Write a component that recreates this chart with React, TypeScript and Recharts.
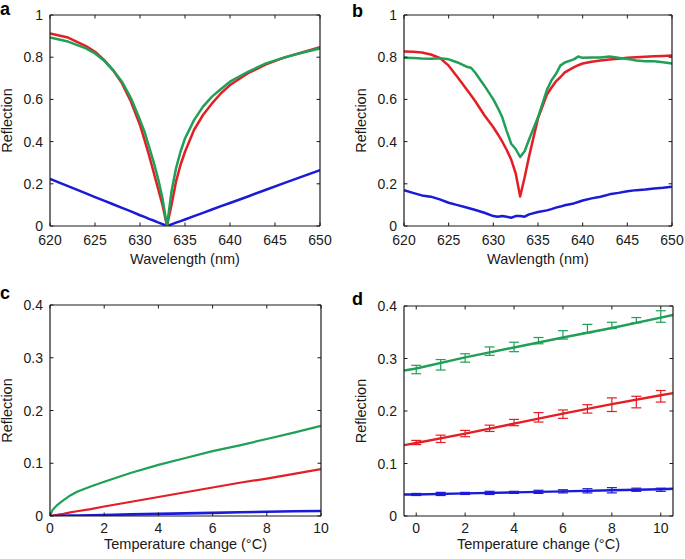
import React from 'react';
import { ComposedChart, Line, XAxis, YAxis, Scatter, ErrorBar } from 'recharts';

const RED = '#e31e24';
const GREEN = '#1f9f57';
const BLUE = '#1a1ad8';
const INK = '#1a1a1a';
const FONT = '"Liberation Sans", Arial, Helvetica, sans-serif';

// ---------- Panel a ----------
const aWavelength = [620, 622, 624, 625, 626, 627, 628, 629, 630, 630.5, 631, 631.5, 632, 632.5, 633, 633.5, 634, 634.5, 635, 636, 637, 638, 639, 640, 642, 644, 646, 648, 650];
const aRed = [0.913, 0.893, 0.853, 0.826, 0.787, 0.739, 0.676, 0.589, 0.479, 0.408, 0.336, 0.257, 0.178, 0.1, 0, 0.1, 0.21, 0.289, 0.352, 0.455, 0.526, 0.581, 0.629, 0.668, 0.724, 0.766, 0.798, 0.823, 0.847];
const aGreen = [0.893, 0.874, 0.842, 0.818, 0.784, 0.739, 0.684, 0.605, 0.502, 0.447, 0.376, 0.305, 0.226, 0.131, 0, 0.163, 0.273, 0.352, 0.415, 0.502, 0.566, 0.613, 0.649, 0.684, 0.731, 0.771, 0.798, 0.821, 0.842];
const aBlue = [0.223, 0.189, 0.155, 0.137, 0.12, 0.103, 0.086, 0.069, 0.051, 0.043, 0.034, 0.026, 0.017, 0.009, 0, 0.008, 0.016, 0.023, 0.031, 0.047, 0.062, 0.078, 0.094, 0.109, 0.14, 0.172, 0.203, 0.234, 0.265];

// ---------- Panel b ----------
const bWavelength = [620, 621, 622, 623, 624, 625, 626, 627, 627.5, 628, 629, 630, 630.5, 631, 631.5, 632, 632.5, 633, 633.5, 634, 635, 636, 636.5, 637, 637.5, 638, 639, 639.5, 640, 641, 642, 643, 644, 645, 646, 647, 648, 649, 650];
const bRed = [0.827, 0.826, 0.822, 0.813, 0.797, 0.76, 0.705, 0.648, 0.62, 0.59, 0.525, 0.468, 0.435, 0.4, 0.36, 0.315, 0.25, 0.14, 0.23, 0.33, 0.51, 0.623, 0.655, 0.685, 0.705, 0.728, 0.752, 0.762, 0.77, 0.778, 0.784, 0.789, 0.793, 0.797, 0.8, 0.802, 0.804, 0.806, 0.808];
const bGreen = [0.797, 0.796, 0.794, 0.793, 0.795, 0.79, 0.775, 0.755, 0.75, 0.725, 0.665, 0.6, 0.56, 0.515, 0.45, 0.39, 0.365, 0.327, 0.354, 0.41, 0.515, 0.645, 0.69, 0.72, 0.76, 0.775, 0.79, 0.803, 0.797, 0.798, 0.799, 0.803, 0.797, 0.792, 0.784, 0.781, 0.781, 0.776, 0.77];
const bBlue = [0.17, 0.157, 0.145, 0.139, 0.126, 0.11, 0.099, 0.088, 0.082, 0.076, 0.063, 0.047, 0.044, 0.047, 0.044, 0.039, 0.047, 0.047, 0.044, 0.055, 0.066, 0.074, 0.08, 0.087, 0.092, 0.098, 0.107, 0.114, 0.121, 0.131, 0.139, 0.15, 0.157, 0.165, 0.17, 0.173, 0.178, 0.181, 0.186];

// ---------- Panel c ----------
const cTemp = [0, 0.1, 0.25, 0.5, 0.75, 1, 1.5, 2, 3, 4, 5, 6, 7, 8, 9, 10];
const cGreen = [0, 0.012, 0.02, 0.03, 0.039, 0.046, 0.056, 0.065, 0.082, 0.097, 0.11, 0.123, 0.134, 0.146, 0.158, 0.171];
const cRed = [0, 0.001, 0.002, 0.004, 0.007, 0.009, 0.013, 0.018, 0.027, 0.036, 0.045, 0.054, 0.063, 0.071, 0.08, 0.089];
const cBlue = [0, 0, 0, 0.0005, 0.001, 0.001, 0.0015, 0.002, 0.003, 0.004, 0.005, 0.006, 0.007, 0.008, 0.009, 0.0095];

// ---------- Panel d ----------
const dFitTemp = [-0.5, 0, 2, 4, 6, 8, 10, 10.5];
const dGreenFit = [0.277, 0.281, 0.302, 0.321, 0.34, 0.358, 0.378, 0.383];
const dRedFit = [0.135, 0.139, 0.157, 0.176, 0.195, 0.213, 0.23, 0.234];
const dBlueFit = [0.041, 0.041, 0.043, 0.045, 0.047, 0.049, 0.051, 0.052];
const dTemp = [0, 1, 2, 3, 4, 5, 6, 7, 8, 9, 10];
const dGreenMean = [0.279, 0.288, 0.301, 0.314, 0.322, 0.334, 0.345, 0.357, 0.363, 0.373, 0.38];
const dGreenErr = [0.008, 0.01, 0.008, 0.008, 0.009, 0.006, 0.008, 0.008, 0.006, 0.005, 0.011];
const dRedMean = [0.14, 0.147, 0.157, 0.167, 0.178, 0.188, 0.194, 0.204, 0.212, 0.217, 0.228];
const dRedErr = [0.004, 0.007, 0.006, 0.006, 0.006, 0.009, 0.008, 0.008, 0.013, 0.011, 0.011];
const dBlueMean = [0.041, 0.042, 0.043, 0.044, 0.045, 0.046, 0.047, 0.048, 0.049, 0.05, 0.05];
const dBlueErr = [0.002, 0.003, 0.002, 0.003, 0.002, 0.003, 0.003, 0.004, 0.005, 0.003, 0.003];

// ---------- Ticks ----------
const wlTicks = [620, 625, 630, 635, 640, 645, 650];
const reflTicksAB = [0, 0.2, 0.4, 0.6, 0.8, 1];
const tempTicks = [0, 2, 4, 6, 8, 10];
const reflTicksCD = [0, 0.1, 0.2, 0.3, 0.4];

const pts = (xs: number[], ys: number[]) => xs.map((x, i) => ({ x, y: ys[i] }));
const errPts = (xs: number[], ys: number[], es: number[]) => xs.map((x, i) => ({ x, y: ys[i], e: es[i] }));

const TL = 3.5;

const bottomTick = (base: number) => (p: any) => (
  <g>
    <line x1={p.x} x2={p.x} y1={p.y} y2={p.y - TL} stroke={INK} strokeWidth={1} />
    <text x={p.x} y={p.y + base} textAnchor="middle" fontSize={14} fill={INK}>{String(p.payload.value)}</text>
  </g>
);
const topTick = (p: any) => (
  <line x1={p.x} x2={p.x} y1={p.y} y2={p.y + TL} stroke={INK} strokeWidth={1} />
);
const leftTick = (p: any) => (
  <g>
    <line x1={p.x} x2={p.x + TL} y1={p.y} y2={p.y} stroke={INK} strokeWidth={1} />
    <text x={p.x - 7} y={p.y + 5} textAnchor="end" fontSize={14} fill={INK}>{String(p.payload.value)}</text>
  </g>
);
const rightTick = (p: any) => (
  <line x1={p.x} x2={p.x - TL} y1={p.y} y2={p.y} stroke={INK} strokeWidth={1} />
);

const axisLine = { stroke: INK, strokeWidth: 1.2 };

type PanelProps = {
  left: number; top: number; width: number; height: number;
  margin: { top: number; right: number; bottom: number; left: number };
  xDomain: [number, number]; xTicks: number[];
  yDomain: [number, number]; yTicks: number[];
  xLabel: string; xLabelOffset: number; xTickBase: number; yLabelDx: number;
  children: React.ReactNode;
};

// Axis boxes are 1px thick (Recharts skips 0-sized axes); margins compensate.
function Panel(props: PanelProps) {
  const { left, top, width, height, margin, xDomain, xTicks, yDomain, yTicks, xLabel, xLabelOffset, xTickBase, yLabelDx, children } = props;
  const m = { top: margin.top - 1, right: margin.right - 1, bottom: margin.bottom - 1, left: margin.left - 1 };
  return (
    <div style={{ position: 'absolute', left, top, width, height }}>
      <ComposedChart width={width} height={height} margin={m}>
        <XAxis xAxisId="b" type="number" dataKey="x" orientation="bottom" domain={xDomain} ticks={xTicks}
          allowDataOverflow interval={0} height={1} tickSize={0} tickMargin={0} tickLine={false}
          axisLine={axisLine} tick={bottomTick(xTickBase)}
          label={{ value: xLabel, position: 'bottom', offset: xLabelOffset - 1, fontSize: 14.5, fill: INK }} />
        <XAxis xAxisId="t" type="number" dataKey="x" orientation="top" domain={xDomain} ticks={xTicks}
          allowDataOverflow interval={0} height={1} tickSize={0} tickMargin={0} tickLine={false}
          axisLine={axisLine} tick={topTick} />
        <YAxis yAxisId="l" type="number" dataKey="y" orientation="left" domain={yDomain} ticks={yTicks}
          allowDataOverflow interval={0} width={1} tickSize={0} tickMargin={0} tickLine={false}
          axisLine={axisLine} tick={leftTick}
          label={{ value: 'Reflection', angle: -90, position: 'center', dx: yLabelDx, fontSize: 14.5, fill: INK }} />
        <YAxis yAxisId="r" type="number" dataKey="y" orientation="right" domain={yDomain} ticks={yTicks}
          allowDataOverflow interval={0} width={1} tickSize={0} tickMargin={0} tickLine={false}
          axisLine={axisLine} tick={rightTick} />
        {children}
      </ComposedChart>
    </div>
  );
}

const lineProps = (color: string, w: number) => ({
  xAxisId: 'b', yAxisId: 'l', dataKey: 'y', type: 'linear' as const, stroke: color, strokeWidth: w,
  dot: false, activeDot: false, isAnimationActive: false, strokeLinejoin: 'round' as const,
});

const emptyShape = () => <g />;

export default function App() {
  return (
    <div style={{ position: 'absolute', left: 0, top: 0, width: 685, height: 559, background: '#fff', fontFamily: FONT, overflow: 'hidden' }}>
      <Panel left={0} top={0} width={340} height={280} margin={{ top: 15, left: 50, right: 20, bottom: 54 }}
        xDomain={[620, 650]} xTicks={wlTicks} yDomain={[0, 1]} yTicks={reflTicksAB}
        xLabel="Wavelength (nm)" xLabelOffset={28} xTickBase={19} yLabelDx={-42.5}>
        <Line {...lineProps(BLUE, 2.5)} data={pts(aWavelength, aBlue)} />
        <Line {...lineProps(RED, 2.5)} data={pts(aWavelength, aRed)} />
        <Line {...lineProps(GREEN, 2.5)} data={pts(aWavelength, aGreen)} />
      </Panel>

      <Panel left={340} top={0} width={345} height={280} margin={{ top: 15, left: 64, right: 13, bottom: 54 }}
        xDomain={[620, 650]} xTicks={wlTicks} yDomain={[0, 1]} yTicks={reflTicksAB}
        xLabel="Wavlength (nm)" xLabelOffset={28} xTickBase={19} yLabelDx={-43}>
        <Line {...lineProps(BLUE, 2.5)} data={pts(bWavelength, bBlue)} />
        <Line {...lineProps(RED, 2.5)} data={pts(bWavelength, bRed)} />
        <Line {...lineProps(GREEN, 2.5)} data={pts(bWavelength, bGreen)} />
      </Panel>

      <Panel left={0} top={280} width={340} height={279} margin={{ top: 25, left: 50, right: 19, bottom: 43 }}
        xDomain={[0, 10]} xTicks={tempTicks} yDomain={[0, 0.4]} yTicks={reflTicksCD}
        xLabel="Temperature change (°C)" xLabelOffset={22.5} xTickBase={16.5} yLabelDx={-42.5}>
        <Line {...lineProps(GREEN, 2.2)} data={pts(cTemp, cGreen)} />
        <Line {...lineProps(RED, 2.2)} data={pts(cTemp, cRed)} />
        <Line {...lineProps(BLUE, 2.6)} data={pts(cTemp, cBlue)} />
      </Panel>

      <Panel left={340} top={280} width={345} height={279} margin={{ top: 26, left: 64, right: 12, bottom: 43 }}
        xDomain={[-0.5, 10.5]} xTicks={tempTicks} yDomain={[0, 0.4]} yTicks={reflTicksCD}
        xLabel="Temperature change (°C)" xLabelOffset={22.5} xTickBase={16.5} yLabelDx={-43}>
        <Line {...lineProps(GREEN, 2.4)} data={pts(dFitTemp, dGreenFit)} />
        <Line {...lineProps(RED, 2.4)} data={pts(dFitTemp, dRedFit)} />
        <Line {...lineProps(BLUE, 2.4)} data={pts(dFitTemp, dBlueFit)} />
        <Scatter xAxisId="b" yAxisId="l" data={errPts(dTemp, dGreenMean, dGreenErr)} dataKey="y" fill={GREEN} shape={emptyShape} isAnimationActive={false}>
          <ErrorBar dataKey="e" direction="y" width={5} stroke={GREEN} strokeWidth={1.2} isAnimationActive={false} />
        </Scatter>
        <Scatter xAxisId="b" yAxisId="l" data={errPts(dTemp, dRedMean, dRedErr)} dataKey="y" fill={RED} shape={emptyShape} isAnimationActive={false}>
          <ErrorBar dataKey="e" direction="y" width={5} stroke={RED} strokeWidth={1.2} isAnimationActive={false} />
        </Scatter>
        <Scatter xAxisId="b" yAxisId="l" data={errPts(dTemp, dBlueMean, dBlueErr)} dataKey="y" fill={BLUE} shape={emptyShape} isAnimationActive={false}>
          <ErrorBar dataKey="e" direction="y" width={5} stroke={BLUE} strokeWidth={1.2} isAnimationActive={false} />
        </Scatter>
      </Panel>

      <svg width={685} height={559} style={{ position: 'absolute', left: 0, top: 0, pointerEvents: 'none' }}>
        <g fontFamily={FONT} fontWeight="bold" fontSize={18} fill="#000">
          <text x={0} y={15}>a</text>
          <text x={352} y={17}>b</text>
          <text x={0} y={299}>c</text>
          <text x={352} y={305}>d</text>
        </g>
      </svg>
    </div>
  );
}
